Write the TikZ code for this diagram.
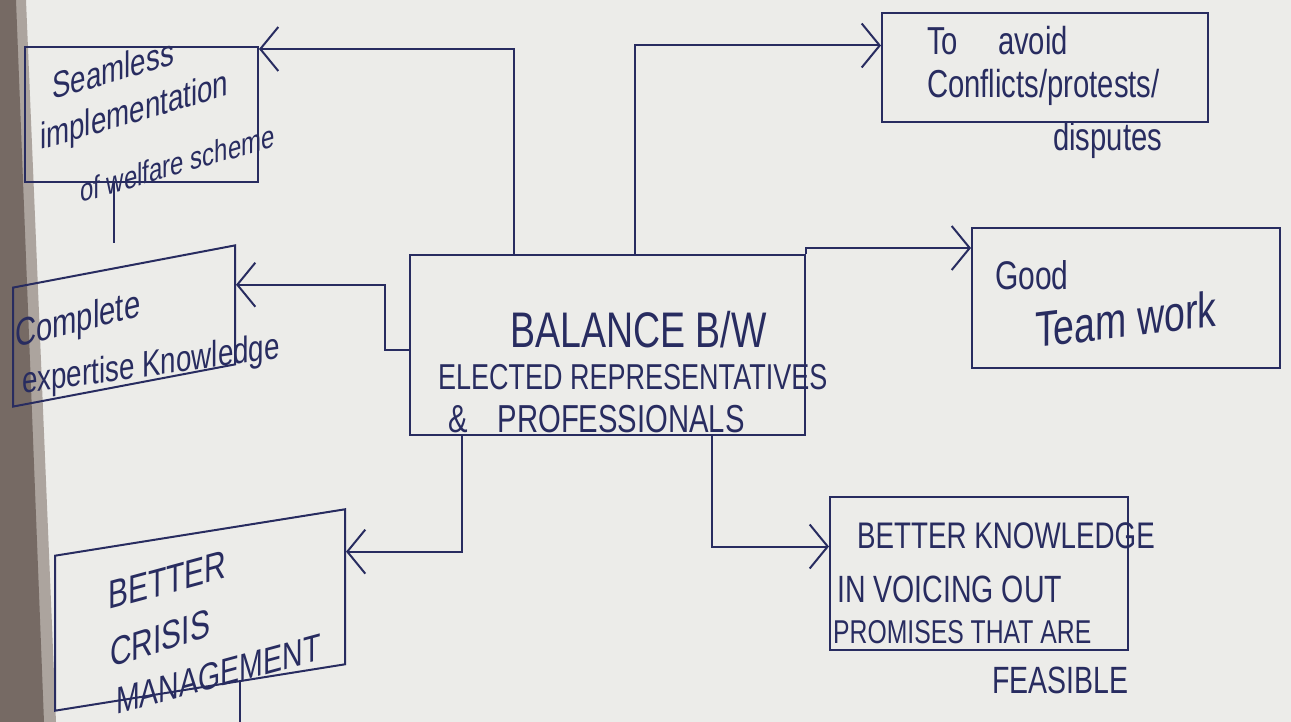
\documentclass[tikz,border=0pt]{standalone}
\usepackage{fontspec}
\setmainfont[FakeStretch=0.75]{Liberation Sans}
\usetikzlibrary{arrows.meta,calc}
\definecolor{ink}{RGB}{40,44,96}
\definecolor{paper}{RGB}{236,236,233}
\definecolor{edgeA}{RGB}{118,106,100}
\definecolor{edgeB}{RGB}{172,164,158}
\newcommand\hwsize[1]{\fontsize{#1}{#1}\selectfont}
\tikzset{
  box/.style={draw=ink, line width=2pt, inner sep=0pt},
  hw/.style={text=ink, inner sep=0pt, anchor=base west},
  link/.style={draw=ink, line width=2pt},
  arr/.style={link, -{Straight Barb[length=18pt,width=44pt]}},
}
\begin{document}
\begin{tikzpicture}[x=1pt,y=-1pt]
\useasboundingbox (0,0) rectangle (1291,722);
\fill[paper] (0,0) rectangle (1291,722);
\fill[edgeB] (0,0) -- (26,0) -- (56,722) -- (0,722) -- cycle;
\fill[edgeA] (0,0) -- (16,0) -- (44,722) -- (0,722) -- cycle;

% boxes
\node[box, minimum width=233pt, minimum height=135pt] (seam) at (141.5,114.5) {};
\node[box, minimum width=222pt, minimum height=119pt, yslant=0.19] (know) at (124,326) {};
\node[box, minimum width=290pt, minimum height=155pt, yslant=0.16] (crisis) at (200,610) {};
\node[box, minimum width=395pt, minimum height=180pt] (bal) at (607.5,345) {};
\node[box, minimum width=326pt, minimum height=109pt] (avoid) at (1045,67.5) {};
\node[box, minimum width=308pt, minimum height=140pt] (good) at (1126,298) {};
\node[box, minimum width=298pt, minimum height=153pt] (bk) at (979,573.5) {};

% texts
\node[hw, font=\hwsize{50}] (balT1) at (510,347) {BALANCE B/W};
\node[hw, font=\hwsize{36}] (balT2) at (438,389) {ELECTED REPRESENTATIVES};
\node[hw, font=\hwsize{39}] (balT3) at (448,432) {\&\hspace{30pt}PROFESSIONALS};

\node[hw, yslant=0.29, font=\hwsize{37}] (seamT1) at (52,100) {Seamless};
\node[hw, yslant=0.29, font=\hwsize{37}] (seamT2) at (40,150) {implementation};
\node[hw, yslant=0.29, font=\hwsize{32}] (seamT3) at (80,203) {of welfare scheme};

\node[hw, yslant=0.25, font=\hwsize{39}] (knowT1) at (15,348) {Complete};
\node[hw, yslant=0.14, font=\hwsize{37}] (knowT2) at (22,394) {expertise Knowledge};

\node[hw, yslant=0.27, font=\hwsize{40}] (crT1) at (108,610) {BETTER};
\node[hw, yslant=0.32, font=\hwsize{40}] (crT2) at (110,668) {CRISIS};
\node[hw, yslant=0.27, font=\hwsize{38}] (crT3) at (116,715) {MANAGEMENT};

\node[hw, font=\hwsize{39}] (avT1) at (927,55) {To\hspace{40pt}avoid};
\node[hw, font=\hwsize{39}] (avT2) at (927,98) {Conflicts/protests/};
\node[hw, font=\hwsize{39}] (avT3) at (1053,151) {disputes};

\node[hw, font=\hwsize{40}] (gdT1) at (995,290) {Good};
\node[hw, yslant=0.12, font=\hwsize{50}] (gdT2) at (1035,348) {Team work};

\node[hw, font=\hwsize{37}] (bkT1) at (857,548) {BETTER KNOWLEDGE};
\node[hw, font=\hwsize{38}] (bkT2) at (837,602) {IN VOICING OUT};
\node[hw, font=\hwsize{33}] (bkT3) at (833,643) {PROMISES THAT ARE};
\node[hw, font=\hwsize{38}] (bkT4) at (992,693) {FEASIBLE};

% connectors
\draw[arr] ($(bal.north west)+(105,0)$) |- ($(seam.north east)+(0,3)$);
\draw[arr] ($(bal.north west)+(226,0)$) |- ($(avoid.west)+(0,-22)$);
\draw[arr] (bal.north east) |- ($(good.west)+(0,-50)$);
\draw[arr] ($(bal.west)+(0,5)$) -- ++(-24,0) |- ($(know.east)+(0,-20)$);
\draw[arr] ($(bal.south west)+(53,0)$) |- ($(crisis.east)+(0,-35)$);
\draw[arr] ($(bal.south west)+(303,0)$) |- ($(bk.west)+(0,-27)$);
\coordinate (sk) at ($(seam.south west)+(90,0)$);
\draw[link, shorten >=22pt] (sk) -- (sk |- know.north);
\coordinate (off) at (240,722);
\draw[link] ($(crisis.south)+(40,-6.4)$) -- (off);
\end{tikzpicture}
\end{document}
